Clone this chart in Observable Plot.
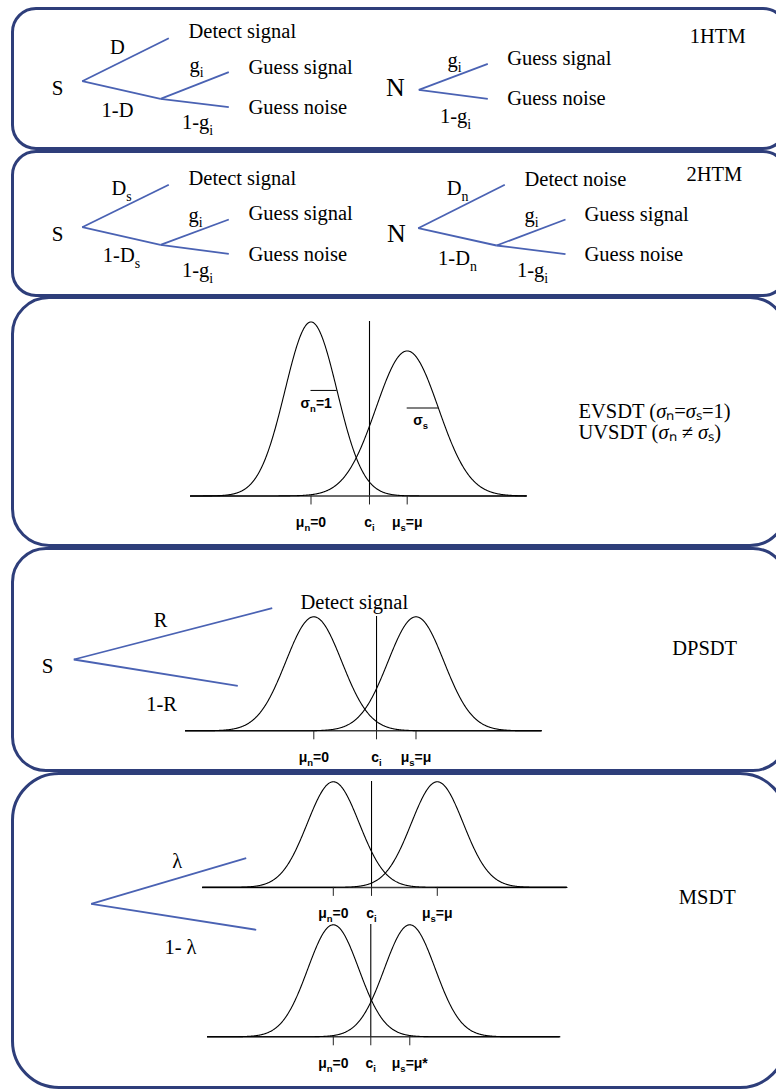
<!DOCTYPE html>
<html>
<head>
<meta charset="utf-8">
<script src="https://cdn.jsdelivr.net/npm/d3@7"></script>
<script src="https://cdn.jsdelivr.net/npm/@observablehq/plot@0.6"></script>
<style>
  html, body { margin: 0; padding: 0; background: #fff; }
  #page { position: relative; width: 776px; height: 1089px; overflow: hidden; background: #fff; }
  .panel { position: absolute; box-sizing: border-box; border: 3px solid #2e3e7a; }
  .layer { position: absolute; }
</style>
</head>
<body>
<div id="page"></div>
<script>
// ====================== DATA ======================
// Signal-detection models (units: noise standard deviations)
const sdtModels  = ["EVSDT/UVSDT", "DPSDT", "MSDT (λ)", "MSDT (1-λ)"];
const noiseMean  = [0, 0, 0, 0];
const noiseSD    = [1, 1, 1, 1];
const signalMean = [3.7, 3.65, 4.0, 3.0];
const signalSD   = [1.2, 1.0, 1.0, 1.0];
const criterion  = [2.25, 2.24, 1.47, 1.47];
const tickLabels = [
  ["μ_n=0", "c_i", "μ_s=μ"],
  ["μ_n=0", "c_i", "μ_s=μ"],
  ["μ_n=0", "c_i", "μ_s=μ"],
  ["μ_n=0", "c_i", "μ_s=μ*"]
];
const sigmaLabels = ["σ_n=1", "σ_s"];

// Model names
const modelNames = ["1HTM", "2HTM", "EVSDT (σₙ=σₛ=1)", "UVSDT (σₙ ≠ σₛ)", "DPSDT", "MSDT"];

// Tree diagrams
const stimulusLabels = ["S", "N", "S", "N", "S"];
const probLabels = ["D", "1-D", "g_i", "1-g_i", "g_i", "1-g_i",
                    "D_s", "1-D_s", "g_i", "1-g_i", "D_n", "1-D_n", "g_i", "1-g_i",
                    "R", "1-R", "λ", "1- λ"];
const outcomeLabels = ["Detect signal", "Guess signal", "Guess noise", "Guess signal", "Guess noise",
                       "Detect signal", "Guess signal", "Guess noise", "Detect noise", "Guess signal", "Guess noise",
                       "Detect signal"];

// ====================== LAYOUT (page pixels) ======================
const panelBoxes = [ // top, bottom, corner radius (border centre lines)
  [8, 148, 25], [151, 295, 25], [297, 545, 38], [548, 770, 35], [773, 1087, 48]
];
const branchSegments = [
  [81.7, 80.7, 168.3, 37.7], [81.7, 80.7, 160, 98.3], [160, 98.3, 228.3, 71.7], [160, 98.3, 228.3, 106.7],
  [418.3, 89.3, 487.3, 63.3], [418.3, 89.3, 487.3, 98.3],
  [81.7, 226.7, 168.3, 184.3], [81.7, 226.7, 160, 244.3], [160, 244.3, 228.3, 219], [160, 244.3, 228.3, 253.3],
  [417.7, 227.7, 504.3, 184.3], [417.7, 227.7, 496, 245], [496, 245, 565, 219], [496, 245, 565, 253.7],
  [73.3, 659, 271.7, 607.7], [73.3, 659, 237.3, 685.3],
  [90.7, 903.3, 245.7, 857.7], [90.7, 903.3, 255.7, 929.3]
];
const stimulusPos  = [[57, 87.3], [395, 86.7], [57, 233.3], [396, 233.4], [47, 665.3]];
const stimulusSize = [21, 26, 21, 26, 21];
const probPos = [[117, 47], [117, 109.6], [196, 64.6], [197, 122], [454, 59.6], [455, 116.3],
                 [121, 188], [121, 255], [195, 214.6], [197, 270.3], [457, 188], [457, 258], [531, 214.6], [532, 270.3],
                 [160, 619.6], [161, 703.6], [176.7, 860.6], [180, 946.6]];
const outcomePos = [[188, 31], [248, 66.3], [248, 107], [506.7, 57.6], [506.7, 98],
                    [188, 178], [248, 212.6], [248, 253.6], [524, 178.6], [584, 213.6], [584, 253.6],
                    [300, 602]];
// model names: 1HTM, 2HTM, EVSDT+UVSDT (two-line block), DPSDT, MSDT
const modelPos = [[689.3, 36], [686, 173.6], [578, 421.5], [671.7, 648], [678.3, 897]];
// SDT plot frames: axis start/end, noise-mean pixel, px per SD, baseline, noise-peak height
const sdtFrames = [
  {x0: 190,   x1: 526, meanPx: 310.5, pxPerSD: 26,   baseline: 495,    peakPx: 174},
  {x0: 185,   x1: 541, meanPx: 313.3, pxPerSD: 28,   baseline: 730.7,  peakPx: 114},
  {x0: 201.7, x1: 566, meanPx: 332.5, pxPerSD: 26,   baseline: 887.3,  peakPx: 105.6},
  {x0: 206.7, x1: 559, meanPx: 332.5, pxPerSD: 25.5, baseline: 1036.7, peakPx: 112}
];

// ====================== HELPERS ======================
const page = document.getElementById("page");
const SVGNS = "http://www.w3.org/2000/svg";
const pdf = (z, m, s) => Math.exp(-0.5 * ((z - m) / s) ** 2) / (s * Math.sqrt(2 * Math.PI));

// turn "x_y" into a subscript and (optionally) italicise σ
function richText(svg, italicSigma) {
  const leaves = [...svg.querySelectorAll("text, tspan")].filter(el => el.children.length === 0);
  leaves.forEach(el => {
    const s = el.textContent;
    if (!/[_σ]/.test(s)) return;
    const fs = parseFloat(getComputedStyle(el).fontSize) || 13;
    const shift = fs * 0.28;
    while (el.firstChild) el.removeChild(el.firstChild);
    let lowered = false;
    const re = /_(.)|(σ)|([^_σ]+)/g;
    let m;
    while ((m = re.exec(s))) {
      const t = document.createElementNS(SVGNS, "tspan");
      if (m[1] !== undefined) {
        t.textContent = m[1];
        t.setAttribute("font-size", (fs * 0.68).toFixed(1));
        t.setAttribute("font-style", "normal");
        if (!lowered) { t.setAttribute("dy", shift.toFixed(1)); lowered = true; }
      } else {
        t.textContent = m[2] || m[3];
        if (lowered) { t.setAttribute("dy", (-shift).toFixed(1)); lowered = false; }
        if (m[2] && italicSigma) t.setAttribute("font-style", "italic");
      }
      el.appendChild(t);
    }
  });
}

// ====================== PANELS ======================
panelBoxes.forEach(([top, bottom, r]) => {
  const d = document.createElement("div");
  d.className = "panel";
  d.style.left = "10.5px";
  d.style.top = (top - 1.5) + "px";
  d.style.width = (786 - 12 + 3) + "px";
  d.style.height = (bottom - top + 3) + "px";
  d.style.borderRadius = r + "px";
  page.appendChild(d);
});

// ====================== TREES & TEXT OVERLAY ======================
const segs = branchSegments.map(([x1, y1, x2, y2]) => ({x1, y1, x2, y2}));
const middleTexts = [
  ...stimulusLabels.map((t, i) => ({text: t, x: stimulusPos[i][0], y: stimulusPos[i][1], size: stimulusSize[i]})),
  ...probLabels.map((t, i) => ({text: t, x: probPos[i][0], y: probPos[i][1], size: 20.5}))
];
const modelTexts = [modelNames[0], modelNames[1], modelNames[2] + "\n" + modelNames[3], modelNames[4], modelNames[5]];
const startTexts = [
  ...outcomeLabels.map((t, i) => ({text: t, x: outcomePos[i][0], y: outcomePos[i][1]})),
  ...modelTexts.map((t, i) => ({text: t, x: modelPos[i][0], y: modelPos[i][1]}))
];

const overlay = Plot.plot({
  width: 776, height: 1089,
  marginTop: 0, marginRight: 0, marginBottom: 0, marginLeft: 0,
  x: {domain: [0, 776], range: [0, 776], axis: null},
  y: {domain: [0, 1089], range: [0, 1089], axis: null},
  style: "background: transparent; overflow: visible; font-family: 'Liberation Serif', 'Times New Roman', serif;",
  marks: [
    Plot.link(segs, {x1: "x1", y1: "y1", x2: "x2", y2: "y2", stroke: "#4a62b3", strokeWidth: 1.8}),
    Plot.text(middleTexts, {x: "x", y: "y", text: "text", fontSize: "size", textAnchor: "middle", lineAnchor: "middle", fill: "#000"}),
    Plot.text(startTexts, {x: "x", y: "y", text: "text", fontSize: 20.5, lineHeight: 1.03, textAnchor: "start", lineAnchor: "middle", fill: "#000"})
  ]
});
const overlayDiv = document.createElement("div");
overlayDiv.className = "layer";
overlayDiv.style.left = "0px"; overlayDiv.style.top = "0px";
overlayDiv.style.width = "776px"; overlayDiv.style.height = "1089px";
overlayDiv.appendChild(overlay);
page.appendChild(overlayDiv);
richText(overlay, true);

// ====================== SDT PLOTS ======================
sdtModels.forEach((name, k) => {
  const F = sdtFrames[k];
  const zmin = (F.x0 - F.meanPx) / F.pxPerSD;
  const zmax = (F.x1 - F.meanPx) / F.pxPerSD;
  const mN = noiseMean[k], sN = noiseSD[k], mS = signalMean[k], sS = signalSD[k], c = criterion[k];
  const zs = d3.range(0, 801).map(i => zmin + (zmax - zmin) * i / 800);
  const curves = [
    ...zs.map(z => ({z, p: pdf(z, mN, sN), dist: "noise"})),
    ...zs.map(z => ({z, p: pdf(z, mS, sS), dist: "signal"}))
  ];
  const ticks = [mN, c, mS];
  const labelOf = new Map(ticks.map((t, i) => [t, tickLabels[k][i]]));
  const plotH = F.peakPx * 0.4 / pdf(0, 0, 1);
  const mT = 4, mB = 44;
  const W = F.x1 - F.x0;
  const marks = [
    Plot.ruleY([0], {stroke: "#3a3a3a", strokeWidth: 1.5}),
    Plot.line(curves, {x: "z", y: "p", z: "dist", stroke: "#000", strokeWidth: 1.1}),
    Plot.ruleX([c], {y1: 0, y2: 0.4, stroke: "#000", strokeWidth: 1.1}),
    Plot.axisX({ticks, tickFormat: d => labelOf.get(d), tickSize: 9, tickPadding: 12, label: null, stroke: "#222", fill: "#000"})
  ];
  if (k === 0) {
    const bars = [
      {x1: mN, x2: mN + sN, y: pdf(mN + sN, mN, sN), xl: mN + 0.2 * sN, label: sigmaLabels[0]},
      {x1: mS, x2: mS + sS, y: pdf(mS + sS, mS, sS), xl: mS + 0.43 * sS, label: sigmaLabels[1]}
    ];
    marks.push(Plot.ruleY(bars, {x1: "x1", x2: "x2", y: "y", stroke: "#000", strokeWidth: 1}));
    marks.push(Plot.text(bars, {x: "xl", y: "y", text: "label", dy: 13, lineAnchor: "middle", fill: "#000"}));
  }
  const svg = Plot.plot({
    width: W, height: mT + plotH + mB,
    marginTop: mT, marginBottom: mB, marginLeft: 0, marginRight: 0,
    x: {domain: [zmin, zmax], label: null},
    y: {domain: [0, 0.4], axis: null},
    style: "background: transparent; overflow: visible; font: bold 14px 'Liberation Sans', Arial, sans-serif;",
    marks
  });
  const div = document.createElement("div");
  div.className = "layer";
  div.style.left = F.x0 + "px";
  div.style.top = (F.baseline - plotH - mT) + "px";
  div.style.width = W + "px";
  div.appendChild(svg);
  page.appendChild(div);
  richText(svg, false);
});
</script>
</body>
</html>
